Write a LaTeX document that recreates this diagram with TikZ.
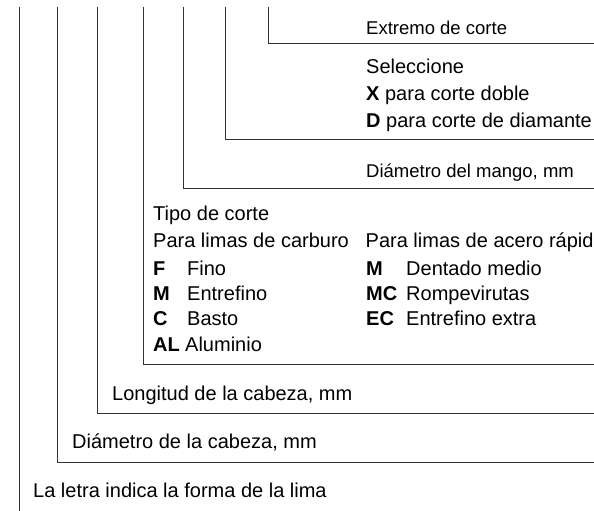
\documentclass[tikz,border=0pt]{standalone}
\usepackage{fontspec}
\setmainfont{Liberation Sans}
\begin{document}
\begin{tikzpicture}[x=1pt,y=-1pt]

	\tikzstyle{txt}=[anchor=base west,inner sep=0pt,
		font=\fontsize{20}{24}\selectfont]
	\tikzstyle{small}=[txt,font=\fontsize{18.5}{22}\selectfont]
	\tikzstyle{leader}=[draw=black!80,line width=1pt]

	\useasboundingbox (0,0) rectangle (594,511);
	\clip (0,0) rectangle (594,511);

	\coordinate (t1) at (19,7);	\coordinate (e1) at (19,511);
	\coordinate (t2) at (57,7);	\coordinate (e2) at (594,462);
	\coordinate (t3) at (97,7);	\coordinate (e3) at (594,413);
	\coordinate (t4) at (143,7);	\coordinate (e4) at (594,364);
	\coordinate (t5) at (183,7);	\coordinate (e5) at (594,188);
	\coordinate (t6) at (225,7);	\coordinate (e6) at (594,139);
	\coordinate (t7) at (268,7);	\coordinate (e7) at (594,44);

	\draw[leader] (t1) -- (e1);
	\draw[leader] (t2) |- (e2);
	\draw[leader] (t3) |- (e3);
	\draw[leader] (t4) |- (e4);
	\draw[leader] (t5) |- (e5);
	\draw[leader] (t6) |- (e6);
	\draw[leader] (t7) |- (e7);

	\node[small] (extremo)	at (366,35)	{Extremo de corte};
	\node[txt] (sel)	at (366,74)	{Seleccione};
	\node[txt] (x)		at (366,100.5)	{\bfseries X\mdseries{} para corte doble};
	\node[txt] (d)		at (366,127)	{\bfseries D\mdseries{} para corte de diamante};
	\node[small] (mango)	at (366,177)	{Diámetro del mango, mm};

	\node[txt] (tipo)	at (153,220)	{Tipo de corte};
	\node[txt] (carb)	at (153,247)	{Para limas de carburo};
	\node[txt] (acero)	at (365.5,247)	{Para limas de acero rápido};

	\node[txt] (f)		at (153,275)	{\bfseries F};
	\node[txt] (fino)	at (187,275)	{Fino};
	\node[txt] (m)		at (153,300)	{\bfseries M};
	\node[txt] (entre)	at (187,300)	{Entrefino};
	\node[txt] (c)		at (153,325)	{\bfseries C};
	\node[txt] (basto)	at (187,325)	{Basto};
	\node[txt] (al)		at (153,351)	{\bfseries AL};
	\node[txt] (alu)	at (185,351)	{Aluminio};

	\node[txt] (m2)		at (366,275)	{\bfseries M};
	\node[txt] (dent)	at (406,275)	{Dentado medio};
	\node[txt] (mc)		at (366,300)	{\bfseries MC};
	\node[txt] (romp)	at (406,300)	{Rompevirutas};
	\node[txt] (ec)		at (366,325)	{\bfseries EC};
	\node[txt] (extra)	at (406,325)	{Entrefino extra};

	\node[txt] (longitud)	at (112,400)	{Longitud de la cabeza, mm};
	\node[txt] (cabeza)	at (72,448)	{Diámetro de la cabeza, mm};
	\node[txt] (letra)	at (33,497)	{La letra indica la forma de la lima};

\end{tikzpicture}
\end{document}
